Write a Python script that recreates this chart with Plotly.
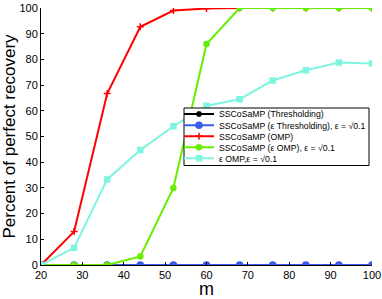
import plotly.graph_objects as go

m = [20, 28, 36, 44, 52, 60, 68, 76, 84, 92, 100]
thr = [0, 0, 0, 0, 0, 0, 0, 0, 0, 0, 0]
eps_thr = [0, 0, 0, 0, 0, 0, 0, 0, 0, 0, 0]
omp = [0, 13, 66.7, 92.7, 99, 99.8, 100, 100, 100, 100, 100]
eps_omp_ss = [0, 0, 0, 3.3, 30, 86, 100, 100, 100, 100, 100]
eps_omp = [0, 6.7, 33.3, 44.7, 54, 62, 64.5, 71.8, 75.8, 78.8, 78.4]

names = ["SSCoSaMP (Thresholding)",
         "SSCoSaMP (ε Thresholding), ε = √0.1",
         "SSCoSaMP (OMP)",
         "SSCoSaMP (ε OMP), ε = √0.1",
         "ε OMP,ε = √0.1"]

W, H = 382, 299
ML, MR, MT, MB = 41, 10, 8, 34
PW, PH = W - ML - MR, H - MT - MB

def px(xp):
    return (xp - ML) / PW

def py(yp):
    return 1 - (yp - MT) / PH

fig = go.Figure()
series = [
    (thr, "black", "asterisk-open", 5),
    (eps_thr, "#3b5bef", "circle", 6),
    (omp, "#ff0000", "cross-thin-open", 5),
    (eps_omp_ss, "#66ee00", "circle", 5),
    (eps_omp, "#7ff5e0", "square", 5),
]
legend_names = ["legend", "legend2", "legend3", "legend4", "legend5"]
row_centers = [114, 125.3, 136.3, 147.3, 158.3]
for (ys, col, sym, sz), nm, lg in zip(series, names, legend_names):
    fig.add_trace(go.Scatter(
        x=m, y=ys, name=nm, mode="lines+markers", legend=lg,
        line=dict(color=col, width=2),
        marker=dict(color=col, symbol=sym, size=sz, line=dict(color=col, width=1.5)),
    ))

legend_x_px = 179
layout_legends = {}
for lg, yc in zip(legend_names, row_centers):
    layout_legends[lg] = dict(
        x=px(legend_x_px), y=py(yc), xanchor="left", yanchor="middle",
        bgcolor="rgba(0,0,0,0)", borderwidth=0,
        font=dict(size=8.7, color="black"), itemwidth=30,
    )

fig.update_layout(
    width=W, height=H,
    margin=dict(l=ML, r=MR, t=MT, b=MB, autoexpand=False),
    plot_bgcolor="white", paper_bgcolor="white",
    font=dict(family="Liberation Sans, Arial, sans-serif", color="black"),
    showlegend=True,
    **layout_legends,
)
# legend frame
fig.add_shape(type="rect", xref="paper", yref="paper", layer="above",
              x0=px(184), x1=px(369), y0=py(165.5), y1=py(108),
              fillcolor="white", opacity=1, line=dict(color="black", width=1))

fig.update_xaxes(range=[20, 100], tickvals=[20, 30, 40, 50, 60, 70, 80, 90, 100],
                 ticks="inside", ticklen=3, tickcolor="black",
                 showline=True, linecolor="black", linewidth=1, showgrid=False, zeroline=False,
                 tickfont=dict(size=11), automargin=False,
                 title=dict(text="m", font=dict(size=18), standoff=0))
fig.update_yaxes(range=[0, 100], tickvals=list(range(0, 101, 10)),
                 ticks="inside", ticklen=3, tickcolor="black",
                 showline=True, linecolor="black", linewidth=1, showgrid=False, zeroline=False,
                 tickfont=dict(size=11), automargin=False,
                 title=dict(text="Percent of perfect recovery", font=dict(size=17), standoff=3))

fig.write_html("out.html", config={"displayModeBar": False},
               post_script="document.body.style.margin='0';document.body.style.padding='0';")
